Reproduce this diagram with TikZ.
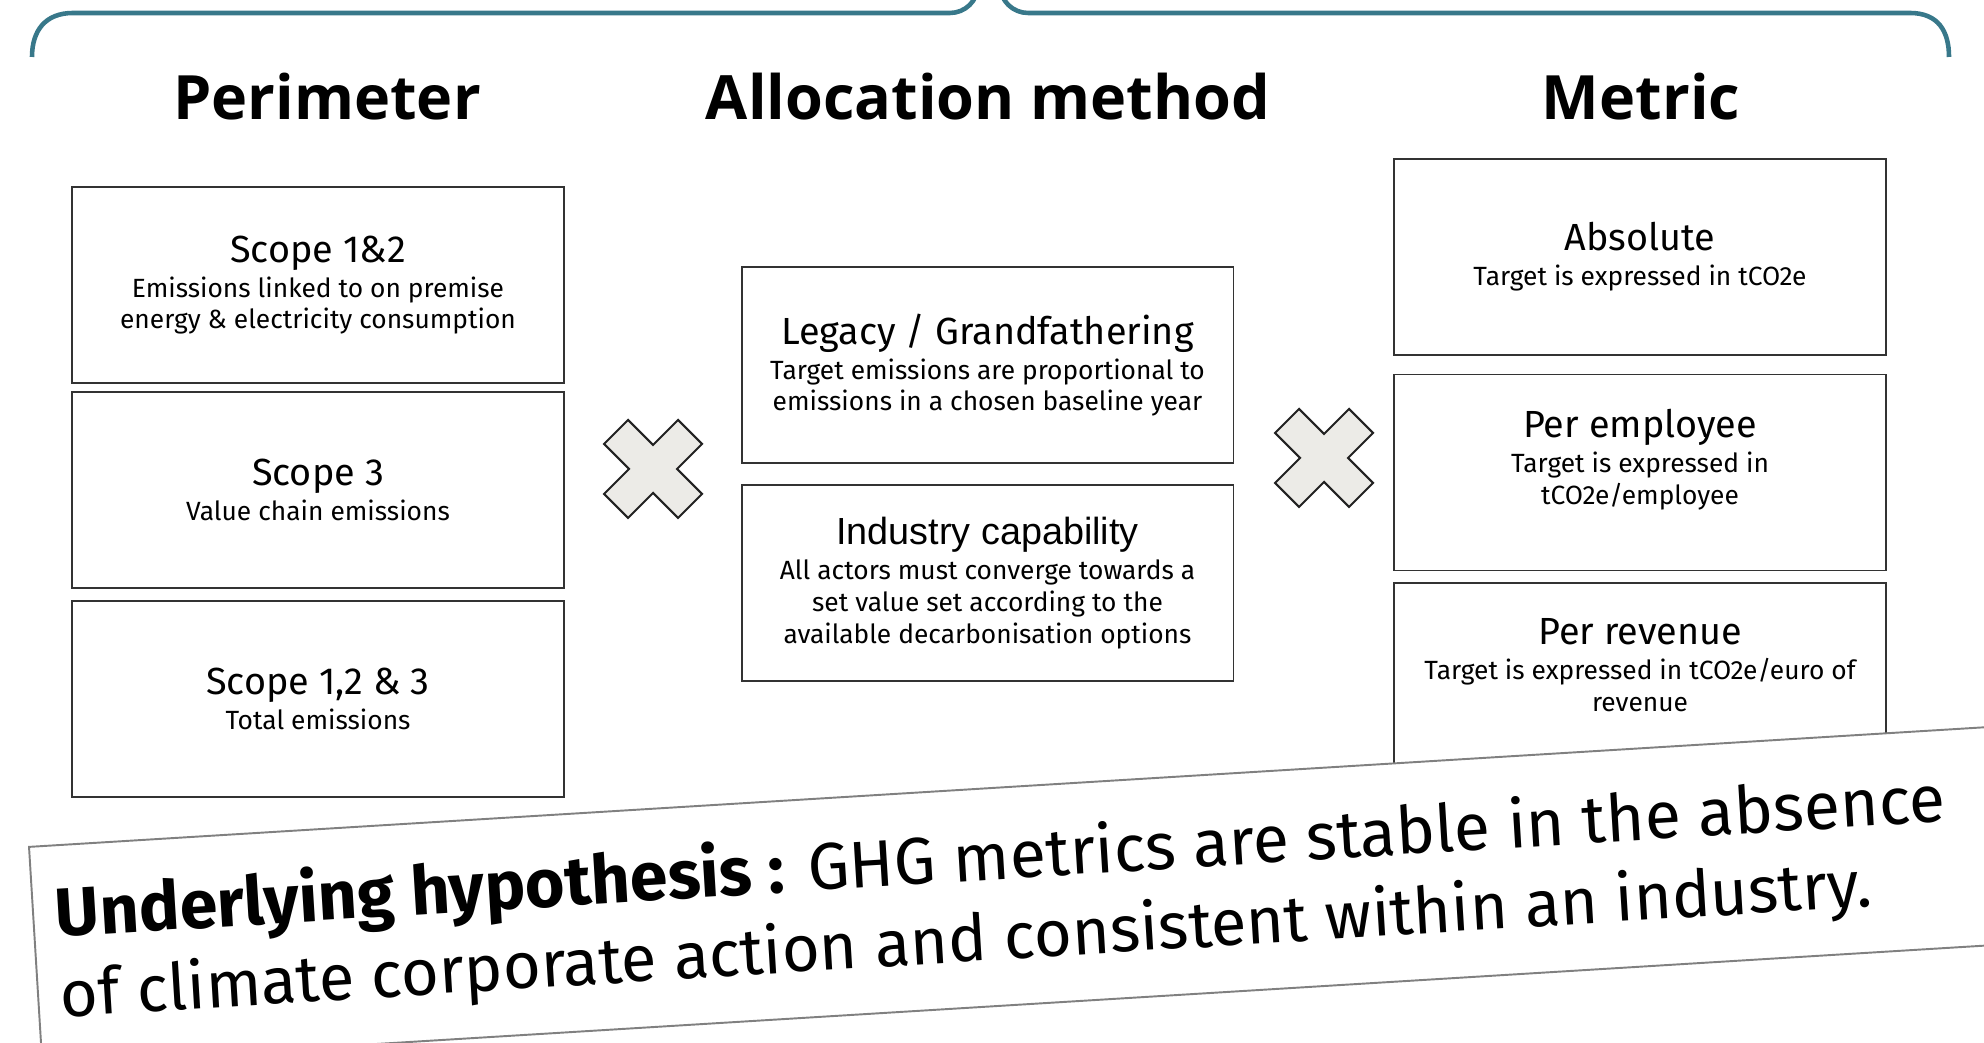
\documentclass[tikz,border=0pt]{standalone}
\usepackage{fontspec}
\setmainfont{Fira Sans}
\newfontfamily\titlefont{Open Sans}
\newfontfamily\arialfont{Liberation Sans}
\usepackage{tikz}
\usetikzlibrary{positioning}
\usepackage{xcolor}
\definecolor{brteal}{RGB}{56,120,138}
\definecolor{boxline}{RGB}{51,51,51}
\definecolor{crossline}{RGB}{34,34,34}
\definecolor{crossfill}{RGB}{236,235,231}
\definecolor{bannerline}{RGB}{128,128,128}
\newcommand{\boxhd}{\fontsize{21.5}{24}\selectfont}
\newcommand{\boxtxt}{\fontsize{15}{18}\selectfont}
\tikzstyle{colhead} = [font=\titlefont\bfseries\fontsize{34.8}{40}\selectfont, anchor=base, inner sep=0pt]
\tikzstyle{optbox} = [draw=boxline, line width=1.1pt, fill=white, minimum width=9.84cm, minimum height=3.92cm, align=center, font=\boxtxt]
\tikzstyle{crossmark} = [draw=crossline, fill=crossfill, line width=1.2pt, line join=miter]
\tikzstyle{hypbanner} = [draw=bannerline, line width=1.1pt, fill=white, minimum width=42cm, minimum height=4.36cm, anchor=north west, rotate=3.5, inner sep=0pt]
\tikzstyle{hypline} = [font=\fontsize{37.6}{44}\selectfont, anchor=base west, rotate=3.5, inner sep=0pt]

\begin{document}
\begin{tikzpicture}[x=0.02cm, y=0.02cm]
\useasboundingbox (0,0) rectangle (1984,1043);

% brace over the three columns
\draw[brteal, line width=2.6pt] (32,986) .. controls (32,1012) and (45,1030) .. (73,1030) -- (950,1030)
  .. controls (965,1030) and (978,1042) .. (978,1058);
\draw[brteal, line width=2.6pt] (1000,1058) .. controls (1000,1042) and (1013,1030) .. (1028,1030) -- (1910,1030)
  .. controls (1938,1030) and (1949,1012) .. (1949,986);

% column titles
\node[colhead] (hdPer) at (327,923) {Perimeter};
\node[colhead] (hdAlloc) at (988,923) {Allocation method};
\node[colhead] (hdMet) at (1641,923) {Metric};

% perimeter
\node[optbox] (scA) at (318,758) {{\boxhd Scope 1\&2}\\[2pt]Emissions linked to on premise\\energy \& electricity consumption};
\node[optbox] (scB) at (318,553) {{\boxhd Scope 3}\\[2pt]Value chain emissions};
\node[optbox] (scC) at (318,344) {{\boxhd Scope 1,2 \& 3}\\[2pt]Total emissions};

% allocation method
\node[optbox] (alLeg) at (987.5,678) {{\boxhd Legacy / Grandfathering}\\[2pt]Target emissions are proportional to\\emissions in a chosen baseline year};
\node[optbox] (alInd) at (987.5,460) {{\arialfont\boxhd Industry capability}\\[2pt]All actors must converge towards a\\set value set according to the\\available decarbonisation options};

% metric
\node[optbox] (mtAbs) at (1640,786) {{\boxhd Absolute}\\[2pt]Target is expressed in tCO2e};
\node[optbox] (mtEmp) at (1640,570.5) {{\boxhd Per employee}\\[2pt]Target is expressed in\\tCO2e/employee\\\mbox{}};
\node[optbox] (mtRev) at (1640,362) {{\boxhd Per revenue}\\[2pt]Target is expressed in tCO2e/euro of\\revenue\\\mbox{}};

% multiplication signs
\foreach \cx/\cy in {653/574, 1324/585}
  \draw[crossmark, shift={(\cx,\cy)}] (49,25) -- (25,49) -- (0,24) -- (-25,49) -- (-49,25) -- (-24,0)
    -- (-49,-25) -- (-25,-49) -- (0,-24) -- (25,-49) -- (49,-25) -- (24,0) -- cycle;

% hypothesis banner
\begin{scope}[shift={(28,197)}, rotate=3.5]
\node[hypbanner] (hyp) at (0,0) {};
\node[hypline] (hypA) at (23,-92.6) {{\fontsize{38.7}{44}\selectfont\bfseries Underlying hypothesis :} GHG metrics are stable in the absence};
\node[hypline, font=\fontsize{37}{44}\selectfont] (hypB) at (23,-172.8) {of climate corporate action and consistent within an industry.};
\end{scope}
\end{tikzpicture}
\end{document}
